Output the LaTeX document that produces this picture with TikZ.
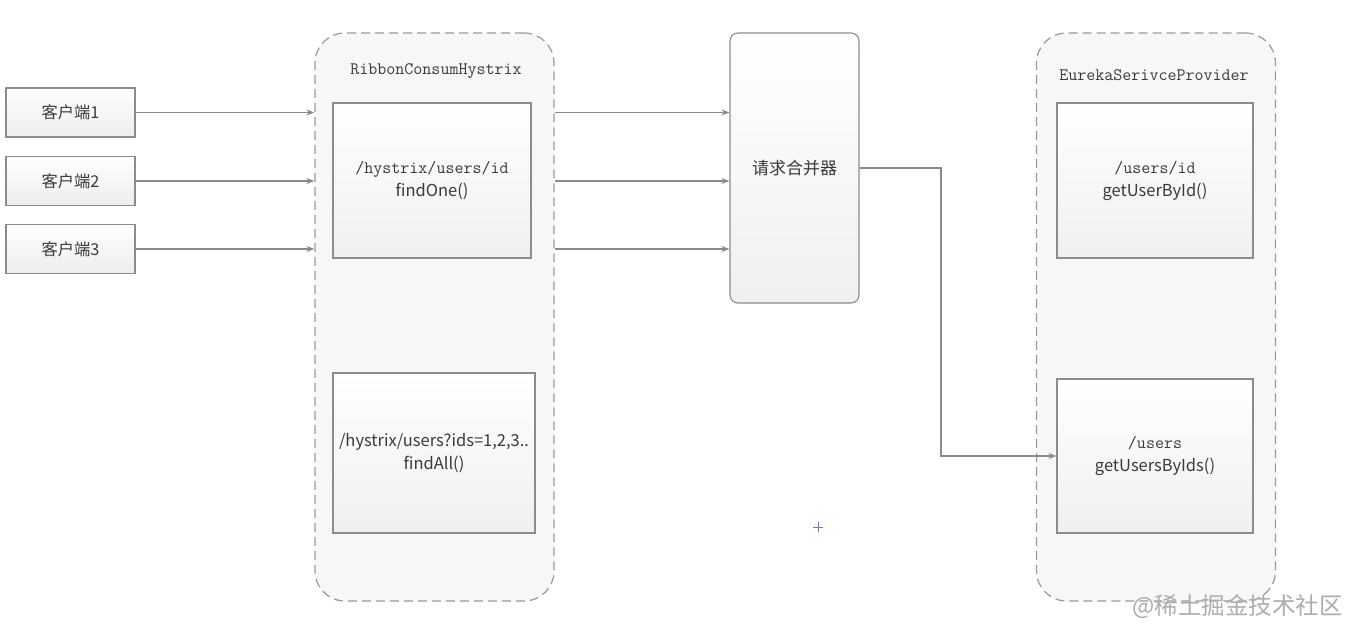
\documentclass[tikz,border=0pt]{standalone}
\usepackage{fontspec}
\setmainfont{Noto Sans CJK SC}
\newfontfamily\cjk{Noto Sans CJK SC}
\usetikzlibrary{arrows.meta,calc}
\definecolor{lineg}{HTML}{8A8A8A}
\definecolor{boxg}{HTML}{8C8C8C}
\definecolor{dashg}{HTML}{9A9A9A}
\definecolor{contfill}{HTML}{F7F7F7}
\definecolor{txt}{HTML}{3A3A3A}
\tikzset{
  client/.style={draw=boxg, line width=1.1pt, top color=white, bottom color=black!7,
     minimum width=129pt, minimum height=49pt, inner sep=0pt, text=txt,
     font=\cjk\fontsize{16.3}{18}\selectfont},
  cont/.style={draw=dashg, line width=1.2pt, dash pattern=on 9pt off 5pt, fill=contfill,
     rounded corners=30pt, minimum width=239pt, minimum height=568pt, inner sep=0pt},
  inbox/.style={draw=boxg, line width=1.1pt, top color=white, bottom color=black!6,
     inner sep=0pt, text=txt, align=center, font=\cjk\fontsize{16.5}{23}\selectfont},
  merger/.style={draw=boxg, line width=1.1pt, top color=white, bottom color=black!6,
     rounded corners=8pt, minimum width=129pt, minimum height=270pt, inner sep=0pt,
     text=txt, font=\cjk\fontsize{17}{18}\selectfont},
  ttl/.style={font=\ttfamily\fontsize{17.5}{18}\selectfont, text=txt, inner sep=0pt},
  conn/.style={draw=lineg, line width=1.2pt, -{Stealth[length=8pt,width=6pt]}},
}
\newcommand{\mono}{\ttfamily\fontsize{17.5}{23}\selectfont}
\newcommand{\sansf}{\cjk\fontsize{16.5}{23}\selectfont}
\begin{document}
\begin{tikzpicture}[x=1pt,y=-1pt]
\useasboundingbox (0,0) rectangle (1349,636);
\fill[white] (0,0) rectangle (1349,636);

% containers
\node[cont] (c1) at (434.5,317) {};
\node[cont] (c2) at (1156,317) {};
\node[ttl] (t1) at (436,71) {RibbonConsumHystrix};
\node[ttl] (t2) at (1154,75) {EurekaSerivceProvider};

% inner boxes
\node[inbox, minimum width=198pt, minimum height=155pt] (b1) at (432,180.5)
  {{\mono /hystrix/users/id}\\{\sansf findOne()}};
\node[inbox, minimum width=202pt, minimum height=160pt] (b2) at (434,453)
  {{\sansf /hystrix/users?ids=1,2,3..}\\{\sansf findAll()}};
\node[inbox, minimum width=196pt, minimum height=155pt] (b3) at (1155,180.5)
  {{\mono /users/id}\\{\sansf getUserById()}};
\node[inbox, minimum width=196pt, minimum height=154pt] (b4) at (1155,456)
  {{\mono /users}\\{\sansf getUsersByIds()}};

% clients
\node[client] (k1) at (70.5,112.5) {客户端1};
\node[client] (k2) at (70.5,181) {客户端2};
\node[client] (k3) at (70.5,249) {客户端3};

% merger
\node[merger] (m) at (794.5,168) {请求合并器};

% connectors
\foreach \k in {k1,k2,k3}{
  \draw[conn] (\k.east) -- (\k.east -| c1.west);
  \draw[conn] (\k.east -| c1.east) -- (\k.east -| m.west);
}
\coordinate (elb) at (941,168);
\draw[conn] (m.east) -- (elb) |- (b4.west);

% cursor mark
\draw[draw={rgb,255:red,90;green,130;blue,210}, line width=1pt] (813,527) -- (823,527) (818,522) -- (818,532);

% watermark
\node[font=\cjk\fontsize{23.5}{26}\selectfont, text=black!32, anchor=east, inner sep=0pt] (wm) at (1343,607) {@稀土掘金技术社区};
\end{tikzpicture}
\end{document}
